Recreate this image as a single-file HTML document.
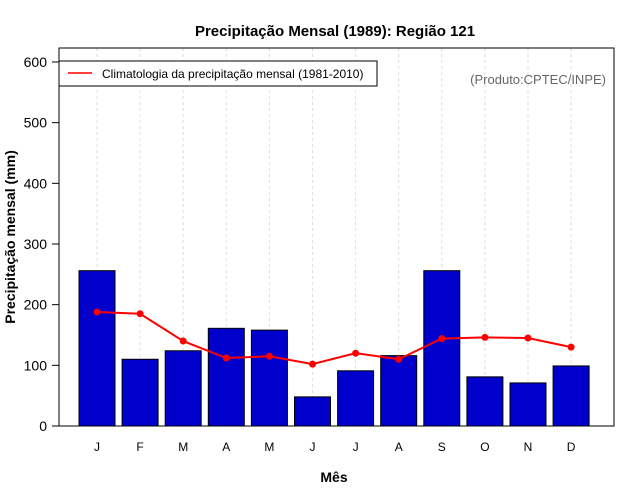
<!DOCTYPE html>
<html><head><meta charset="utf-8"><style>
body{margin:0;background:#fff;}
svg{display:block;font-family:"Liberation Sans",sans-serif;}
</style></head><body>
<svg id="c" width="640" height="500">
<text x="335" y="36" text-anchor="middle" font-size="15" font-weight="bold">Precipitação Mensal (1989): Região 121</text>
<text x="334" y="482" text-anchor="middle" font-size="14" font-weight="bold">Mês</text>
<text transform="translate(15,237) rotate(-90)" text-anchor="middle" font-size="14" font-weight="bold">Precipitação mensal (mm)</text>
<g id="grid"></g><g id="bars"></g><g id="line"></g><g id="axes"></g>
<rect x="59" y="48" width="555" height="378" fill="none" stroke="#000"/>
<g>
<rect x="59" y="61" width="318" height="25" fill="#fff" stroke="#000"/>
<line x1="68" y1="73" x2="92" y2="73" stroke="red" stroke-width="1.5"/>
<text x="102" y="78" font-size="12">Climatologia da precipitação mensal (1981-2010)</text>
</g>
<text x="606" y="84" text-anchor="end" font-size="13" fill="#666">(Produto:CPTEC/INPE)</text>
</svg>
<script>
const months=["J","F","M","A","M","J","J","A","S","O","N","D"];
const precip=[256,110,124,161,158,48,91,116,256,81,71,99];
const climatology=[188,185,140,112,115,102,120,110,144,146,145,130];
const yTicks=[0,100,200,300,400,500,600];
const NS="http://www.w3.org/2000/svg";
const x=i=>97+i*43.1;
const y=v=>426-v*0.6067;
function mk(t,a,p){const e=document.createElementNS(NS,t);for(const k in a)e.setAttribute(k,a[k]);p.appendChild(e);return e;}
const G=document.getElementById("grid"),B=document.getElementById("bars"),L=document.getElementById("line"),A=document.getElementById("axes");
months.forEach((m,i)=>{
 const g=mk("line",{x1:x(i),x2:x(i),y1:48,y2:426,stroke:"#ddd","stroke-dasharray":"3,3"},G);
 
 
 const t=mk("text",{x:x(i),y:451,"text-anchor":"middle","font-size":12},A);t.textContent=m;
 
 
 const b=mk("rect",{x:x(i)-18,y:y(precip[i]),width:36,height:y(0)-y(precip[i]),fill:"#0000cd",stroke:"#000"},B);
 
 
});
const pl=mk("polyline",{points:climatology.map((v,i)=>x(i)+","+y(v)).join(" "),fill:"none",stroke:"red","stroke-width":2},L);


climatology.forEach((v,i)=>{const c=mk("circle",{cx:x(i),cy:y(v),r:3.5,fill:"red"},L);
 
 });
yTicks.forEach(v=>{
 mk("line",{x1:52,x2:59,y1:y(v),y2:y(v),stroke:"#000"},A);
 const t=mk("text",{x:47,y:y(v)+5,"text-anchor":"end","font-size":14},A);t.textContent=v;
 
 
});
</script>
</body></html>
